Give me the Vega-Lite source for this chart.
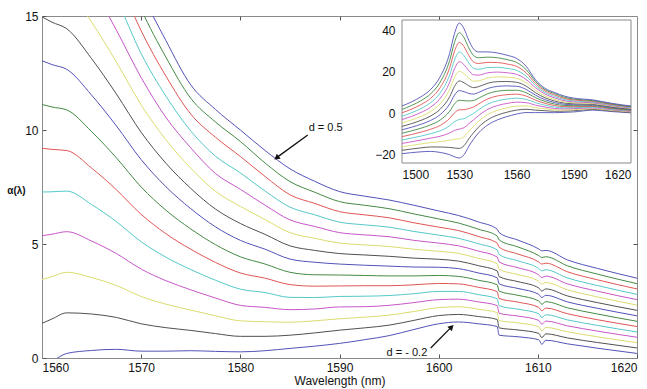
{
"$schema": "https://vega.github.io/schema/vega-lite/v6.json",
"width": 595, "height": 342,
"autosize": {"type": "none"},
"padding": {"left": 42, "top": 16, "right": 10, "bottom": 31},
"background": "white",
"config": {
  "view": {"stroke": "#8a8a8a", "strokeWidth": 1},
  "axis": {"grid": false, "labelFont": "Liberation Sans", "labelFontSize": 12, "labelColor": "#111", "domainColor": "#8a8a8a", "tickColor": "#555", "titleFont": "Liberation Sans", "titleColor": "#111"},
  "text": {"font": "Liberation Sans"}
},
"datasets": {
  "main": [
    {"w":1560,"c00":-0.4,"c01":1.52,"c02":3.44,"c03":5.36,"c04":7.28,"c05":9.2,"c06":11.12,"c07":13.04,"c08":14.96,"c09":16.88,"c10":18.8,"c11":20.72,"c12":22.64,"c13":24.56,"c14":26.48},
    {"w":1561,"c00":-0.15,"c01":1.71,"c02":3.57,"c03":5.43,"c04":7.29,"c05":9.15,"c06":11.01,"c07":12.87,"c08":14.73,"c09":16.59,"c10":18.45,"c11":20.31,"c12":22.17,"c13":24.03,"c14":25.89},
    {"w":1562.5,"c00":0.2,"c01":1.98,"c02":3.76,"c03":5.54,"c04":7.32,"c05":9.1,"c06":10.88,"c07":12.66,"c08":14.44,"c09":16.22,"c10":18.0,"c11":19.78,"c12":21.56,"c13":23.34,"c14":25.12},
    {"w":1565,"c00":0.33,"c01":1.93,"c02":3.53,"c03":5.13,"c04":6.73,"c05":8.33,"c06":9.93,"c07":11.53,"c08":13.13,"c09":14.73,"c10":16.33,"c11":17.93,"c12":19.53,"c13":21.13,"c14":22.73},
    {"w":1567.5,"c00":0.38,"c01":1.78,"c02":3.18,"c03":4.58,"c04":5.98,"c05":7.38,"c06":8.78,"c07":10.18,"c08":11.58,"c09":12.98,"c10":14.38,"c11":15.78,"c12":16.83,"c13":17.98,"c14":18.98},
    {"w":1570,"c00":0.3,"c01":1.5,"c02":2.7,"c03":3.9,"c04":5.1,"c05":6.3,"c06":7.5,"c07":8.7,"c08":9.9,"c09":11.1,"c10":12.3,"c11":13.35,"c12":14.35,"c13":15.3,"c14":16.1},
    {"w":1572.5,"c00":0.3,"c01":1.33,"c02":2.36,"c03":3.39,"c04":4.42,"c05":5.45,"c06":6.48,"c07":7.51,"c08":8.54,"c09":9.57,"c10":10.55,"c11":11.48,"c12":12.36,"c13":13.19,"c14":13.92},
    {"w":1575,"c00":0.32,"c01":1.21,"c02":2.1,"c03":2.99,"c04":3.88,"c05":4.77,"c06":5.66,"c07":6.55,"c08":7.44,"c09":8.33,"c10":9.22,"c11":9.96,"c12":10.7,"c13":11.39,"c14":11.98},
    {"w":1577.5,"c00":0.29,"c01":1.07,"c02":1.85,"c03":2.63,"c04":3.41,"c05":4.19,"c06":4.97,"c07":5.75,"c08":6.53,"c09":7.31,"c10":8.09,"c11":8.85,"c12":9.68,"c13":10.35,"c14":10.9},
    {"w":1580,"c00":0.27,"c01":0.95,"c02":1.63,"c03":2.31,"c04":3.02,"c05":3.73,"c06":4.44,"c07":5.16,"c08":5.9,"c09":6.65,"c10":7.4,"c11":8.12,"c12":8.84,"c13":9.5,"c14":10.0},
    {"w":1582.5,"c00":0.32,"c01":0.95,"c02":1.59,"c03":2.22,"c04":2.87,"c05":3.5,"c06":4.12,"c07":4.77,"c08":5.42,"c09":6.07,"c10":6.7,"c11":7.32,"c12":7.96,"c13":8.55,"c14":9.1},
    {"w":1585,"c00":0.42,"c01":1.0,"c02":1.57,"c03":2.12,"c04":2.66,"c05":3.22,"c06":3.76,"c07":4.34,"c08":4.92,"c09":5.5,"c10":6.06,"c11":6.62,"c12":7.16,"c13":7.74,"c14":8.3},
    {"w":1587.5,"c00":0.52,"c01":1.1,"c02":1.63,"c03":2.15,"c04":2.65,"c05":3.15,"c06":3.65,"c07":4.2,"c08":4.72,"c09":5.25,"c10":5.77,"c11":6.28,"c12":6.78,"c13":7.27,"c14":7.75},
    {"w":1590,"c00":0.64,"c01":1.22,"c02":1.72,"c03":2.24,"c04":2.7,"c05":3.16,"c06":3.64,"c07":4.12,"c08":4.58,"c09":5.04,"c10":5.5,"c11":5.96,"c12":6.42,"c13":6.86,"c14":7.3},
    {"w":1592.5,"c00":0.8,"c01":1.32,"c02":1.79,"c03":2.25,"c04":2.71,"c05":3.17,"c06":3.62,"c07":4.07,"c08":4.52,"c09":4.96,"c10":5.4,"c11":5.84,"c12":6.28,"c13":6.7,"c14":7.1},
    {"w":1595,"c00":0.98,"c01":1.44,"c02":1.88,"c03":2.31,"c04":2.74,"c05":3.17,"c06":3.6,"c07":4.03,"c08":4.46,"c09":4.89,"c10":5.32,"c11":5.74,"c12":6.15,"c13":6.55,"c14":6.93},
    {"w":1597.5,"c00":1.25,"c01":1.65,"c02":2.04,"c03":2.43,"c04":2.82,"c05":3.21,"c06":3.6,"c07":3.99,"c08":4.38,"c09":4.77,"c10":5.16,"c11":5.55,"c12":5.93,"c13":6.32,"c14":6.7},
    {"w":1600,"c00":1.5,"c01":1.86,"c02":2.21,"c03":2.56,"c04":2.92,"c05":3.27,"c06":3.62,"c07":3.98,"c08":4.33,"c09":4.68,"c10":5.04,"c11":5.39,"c12":5.74,"c13":6.1,"c14":6.45},
    {"w":1602,"c00":1.58,"c01":1.91,"c02":2.25,"c03":2.58,"c04":2.92,"c05":3.25,"c06":3.58,"c07":3.92,"c08":4.25,"c09":4.59,"c10":4.92,"c11":5.25,"c12":5.59,"c13":5.92,"c14":6.25},
    {"w":1604,"c00":1.5,"c01":1.82,"c02":2.14,"c03":2.46,"c04":2.78,"c05":3.1,"c06":3.41,"c07":3.73,"c08":4.05,"c09":4.37,"c10":4.69,"c11":5.01,"c12":5.33,"c13":5.65,"c14":5.97},
    {"w":1605.9,"c00":1.38,"c01":1.69,"c02":1.99,"c03":2.3,"c04":2.6,"c05":2.91,"c06":3.21,"c07":3.52,"c08":3.82,"c09":4.13,"c10":4.43,"c11":4.74,"c12":5.04,"c13":5.35,"c14":5.65},
    {"w":1606.1,"c00":1.0,"c01":1.32,"c02":1.64,"c03":1.96,"c04":2.29,"c05":2.61,"c06":2.93,"c07":3.25,"c08":3.57,"c09":3.89,"c10":4.21,"c11":4.54,"c12":4.86,"c13":5.18,"c14":5.5},
    {"w":1608,"c00":0.93,"c01":1.23,"c02":1.54,"c03":1.84,"c04":2.14,"c05":2.45,"c06":2.75,"c07":3.05,"c08":3.35,"c09":3.66,"c10":3.96,"c11":4.26,"c12":4.56,"c13":4.87,"c14":5.17},
    {"w":1610.1,"c00":0.8,"c01":1.08,"c02":1.37,"c03":1.65,"c04":1.94,"c05":2.22,"c06":2.5,"c07":2.79,"c08":3.07,"c09":3.36,"c10":3.64,"c11":3.92,"c12":4.21,"c13":4.49,"c14":4.78},
    {"w":1610.4,"c00":0.6,"c01":0.89,"c02":1.19,"c03":1.48,"c04":1.77,"c05":2.07,"c06":2.36,"c07":2.65,"c08":2.94,"c09":3.24,"c10":3.53,"c11":3.82,"c12":4.12,"c13":4.41,"c14":4.7},
    {"w":1610.8,"c00":0.78,"c01":1.06,"c02":1.34,"c03":1.62,"c04":1.9,"c05":2.19,"c06":2.47,"c07":2.75,"c08":3.03,"c09":3.31,"c10":3.59,"c11":3.87,"c12":4.16,"c13":4.44,"c14":4.72},
    {"w":1613,"c00":0.62,"c01":0.88,"c02":1.15,"c03":1.41,"c04":1.67,"c05":1.94,"c06":2.2,"c07":2.46,"c08":2.72,"c09":2.99,"c10":3.25,"c11":3.51,"c12":3.78,"c13":4.04,"c14":4.3},
    {"w":1616,"c00":0.43,"c01":0.68,"c02":0.93,"c03":1.18,"c04":1.43,"c05":1.68,"c06":1.93,"c07":2.18,"c08":2.43,"c09":2.68,"c10":2.93,"c11":3.18,"c12":3.43,"c13":3.68,"c14":3.93},
    {"w":1620,"c00":0.2,"c01":0.44,"c02":0.67,"c03":0.91,"c04":1.14,"c05":1.38,"c06":1.61,"c07":1.85,"c08":2.09,"c09":2.32,"c10":2.56,"c11":2.79,"c12":3.03,"c13":3.26,"c14":3.5}
  ],
  "inset": [
    {"w":1500,"c00":-19.5,"c01":-17.86,"c02":-16.21,"c03":-14.57,"c04":-12.93,"c05":-11.29,"c06":-9.64,"c07":-8.0,"c08":-6.36,"c09":-4.71,"c10":-3.07,"c11":-1.43,"c12":0.21,"c13":1.86,"c14":3.5},
    {"w":1505,"c00":-19.0,"c01":-17.25,"c02":-15.5,"c03":-13.75,"c04":-12.0,"c05":-10.25,"c06":-8.5,"c07":-6.75,"c08":-5.0,"c09":-3.25,"c10":-1.5,"c11":0.25,"c12":2.0,"c13":3.75,"c14":5.5},
    {"w":1510,"c00":-18.6,"c01":-16.7,"c02":-14.8,"c03":-12.9,"c04":-11.0,"c05":-9.1,"c06":-7.2,"c07":-5.3,"c08":-3.4,"c09":-1.5,"c10":0.4,"c11":2.3,"c12":4.2,"c13":6.1,"c14":8.0},
    {"w":1515,"c00":-18.4,"c01":-16.26,"c02":-14.13,"c03":-11.99,"c04":-9.86,"c05":-7.72,"c06":-5.58,"c07":-3.45,"c08":-1.31,"c09":0.82,"c10":2.96,"c11":5.1,"c12":7.23,"c13":9.37,"c14":11.5},
    {"w":1520,"c00":-18.9,"c01":-16.29,"c02":-13.69,"c03":-11.08,"c04":-8.47,"c05":-5.87,"c06":-3.26,"c07":-0.65,"c08":1.96,"c09":4.56,"c10":7.17,"c11":9.78,"c12":12.38,"c13":14.99,"c14":17.6},
    {"w":1525,"c00":-20.0,"c01":-16.5,"c02":-13.0,"c03":-9.5,"c04":-6.0,"c05":-2.5,"c06":1.0,"c07":4.5,"c08":8.0,"c09":11.5,"c10":15.0,"c11":18.5,"c12":22.0,"c13":25.5,"c14":29.0},
    {"w":1527.5,"c00":-21.0,"c01":-16.76,"c02":-12.51,"c03":-8.27,"c04":-4.03,"c05":0.21,"c06":4.46,"c07":8.7,"c08":12.94,"c09":17.19,"c10":21.43,"c11":25.67,"c12":29.91,"c13":34.16,"c14":38.4},
    {"w":1530,"c00":-21.6,"c01":-16.95,"c02":-12.3,"c03":-7.65,"c04":-3.0,"c05":1.65,"c06":6.3,"c07":10.95,"c08":15.6,"c09":20.25,"c10":24.9,"c11":29.55,"c12":34.2,"c13":38.85,"c14":43.5},
    {"w":1532.5,"c00":-20.0,"c01":-15.66,"c02":-11.31,"c03":-6.97,"c04":-2.63,"c05":1.71,"c06":6.06,"c07":10.4,"c08":14.74,"c09":19.09,"c10":23.43,"c11":27.77,"c12":32.11,"c13":36.46,"c14":40.8},
    {"w":1535,"c00":-16.0,"c01":-12.34,"c02":-8.69,"c03":-5.03,"c04":-1.37,"c05":2.29,"c06":5.94,"c07":9.6,"c08":13.26,"c09":16.91,"c10":20.57,"c11":24.23,"c12":27.89,"c13":31.54,"c14":35.2},
    {"w":1537.5,"c00":-12.5,"c01":-9.39,"c02":-6.29,"c03":-3.18,"c04":-0.07,"c05":3.04,"c06":6.14,"c07":9.25,"c08":12.36,"c09":15.46,"c10":18.57,"c11":21.68,"c12":24.79,"c13":27.89,"c14":31.0},
    {"w":1540,"c00":-9.6,"c01":-6.8,"c02":-4.0,"c03":-1.2,"c04":1.6,"c05":4.4,"c06":7.2,"c07":10.0,"c08":12.8,"c09":15.6,"c10":18.4,"c11":21.2,"c12":24.0,"c13":26.8,"c14":29.6},
    {"w":1545,"c00":-5.6,"c01":-3.09,"c02":-0.57,"c03":1.94,"c04":4.46,"c05":6.97,"c06":9.48,"c07":12.0,"c08":14.51,"c09":17.03,"c10":19.54,"c11":22.05,"c12":24.57,"c13":27.08,"c14":29.6},
    {"w":1550,"c00":-3.2,"c01":-0.89,"c02":1.41,"c03":3.72,"c04":6.03,"c05":8.34,"c06":10.64,"c07":12.95,"c08":15.26,"c09":17.56,"c10":19.87,"c11":22.18,"c12":24.48,"c13":26.79,"c14":29.1},
    {"w":1555,"c00":-1.6,"c01":0.51,"c02":2.63,"c03":4.74,"c04":6.86,"c05":8.97,"c06":11.08,"c07":13.2,"c08":15.31,"c09":17.43,"c10":19.54,"c11":21.65,"c12":23.77,"c13":25.88,"c14":28.0},
    {"w":1560,"c00":-0.4,"c01":1.52,"c02":3.44,"c03":5.36,"c04":7.28,"c05":9.2,"c06":11.12,"c07":13.04,"c08":14.96,"c09":16.88,"c10":18.8,"c11":20.72,"c12":22.64,"c13":24.56,"c14":26.48},
    {"w":1565,"c00":0.33,"c01":1.93,"c02":3.53,"c03":5.13,"c04":6.73,"c05":8.33,"c06":9.93,"c07":11.53,"c08":13.13,"c09":14.73,"c10":16.33,"c11":17.93,"c12":19.53,"c13":21.13,"c14":22.73},
    {"w":1570,"c00":0.3,"c01":1.5,"c02":2.7,"c03":3.9,"c04":5.1,"c05":6.3,"c06":7.5,"c07":8.7,"c08":9.9,"c09":11.1,"c10":12.3,"c11":13.35,"c12":14.35,"c13":15.3,"c14":16.1},
    {"w":1575,"c00":0.32,"c01":1.21,"c02":2.1,"c03":2.99,"c04":3.88,"c05":4.77,"c06":5.66,"c07":6.55,"c08":7.44,"c09":8.33,"c10":9.22,"c11":9.96,"c12":10.7,"c13":11.39,"c14":11.98},
    {"w":1580,"c00":0.27,"c01":0.95,"c02":1.63,"c03":2.31,"c04":3.02,"c05":3.73,"c06":4.44,"c07":5.16,"c08":5.9,"c09":6.65,"c10":7.4,"c11":8.12,"c12":8.84,"c13":9.5,"c14":10.0},
    {"w":1585,"c00":0.42,"c01":1.0,"c02":1.57,"c03":2.12,"c04":2.66,"c05":3.22,"c06":3.76,"c07":4.34,"c08":4.92,"c09":5.5,"c10":6.06,"c11":6.62,"c12":7.16,"c13":7.74,"c14":8.3},
    {"w":1590,"c00":0.64,"c01":1.22,"c02":1.72,"c03":2.24,"c04":2.7,"c05":3.16,"c06":3.64,"c07":4.12,"c08":4.58,"c09":5.04,"c10":5.5,"c11":5.96,"c12":6.42,"c13":6.86,"c14":7.3},
    {"w":1600,"c00":1.5,"c01":1.86,"c02":2.21,"c03":2.56,"c04":2.92,"c05":3.27,"c06":3.62,"c07":3.98,"c08":4.33,"c09":4.68,"c10":5.04,"c11":5.39,"c12":5.74,"c13":6.1,"c14":6.45},
    {"w":1610,"c00":0.8,"c01":1.08,"c02":1.37,"c03":1.65,"c04":1.94,"c05":2.22,"c06":2.5,"c07":2.79,"c08":3.07,"c09":3.36,"c10":3.64,"c11":3.92,"c12":4.21,"c13":4.49,"c14":4.78},
    {"w":1620,"c00":0.2,"c01":0.44,"c02":0.67,"c03":0.91,"c04":1.14,"c05":1.38,"c06":1.61,"c07":1.85,"c08":2.09,"c09":2.32,"c10":2.56,"c11":2.79,"c12":3.03,"c13":3.26,"c14":3.5}
  ]
},
"resolve": {"scale": {"x": "independent", "y": "independent", "color": "shared"}, "axis": {"x": "independent", "y": "independent"}},
"layer": [
  {
    "data": {"name": "main"},
    "transform": [{"fold": ["c00","c01","c02","c03","c04","c05","c06","c07","c08","c09","c10","c11","c12","c13","c14"], "as": ["curve","val"]}],
    "mark": {"type": "line", "strokeWidth": 1, "clip": true, "interpolate": "monotone"},
    "encoding": {
      "x": {"field": "w", "type": "quantitative", "scale": {"domain": [1560, 1620], "nice": false, "zero": false},
        "axis": {"orient": "bottom", "values": [1560,1570,1580,1590,1600,1610,1620], "format": "d", "tickSize": -4, "labelPadding": 8, "title": "Wavelength (nm)", "titleFontSize": 12, "titleFontWeight": "normal", "titlePadding": 2}},
      "y": {"field": "val", "type": "quantitative", "scale": {"domain": [0, 15], "nice": false, "zero": false},
        "axis": {"orient": "left", "values": [0,5,10,15], "tickSize": -4, "labelPadding": 8, "title": "α(λ)", "titleAngle": 0, "titleX": -26, "titleY": 174, "titleAlign": "center", "titleBaseline": "middle", "titleFontSize": 10, "titleFontWeight": "bold"}},
      "color": {"field": "curve", "type": "nominal", "legend": null,
        "scale": {"domain": ["c00","c01","c02","c03","c04","c05","c06","c07","c08","c09","c10","c11","c12","c13","c14"],
          "range": ["#5252b8","#505050","#dcdc70","#c855c8","#55c8c8","#e05555","#448a44","#5252b8","#505050","#dcdc70","#c855c8","#55c8c8","#e05555","#448a44","#5252b8"]}}
    }
  },
  {
    "data": {"values": [{}]},
    "layer": [
      {
        "mark": {"type": "rule", "strokeWidth": 1.3, "color": "#111"},
        "encoding": {
          "x": {"datum": 1586.8, "type": "quantitative", "scale": {"domain": [1560, 1620], "nice": false, "zero": false}, "axis": {"orient": "top", "values": [1570,1580,1590,1600,1610], "labels": false, "tickSize": -4, "domain": false, "title": null}},
          "y": {"datum": 9.78, "type": "quantitative", "scale": {"domain": [0, 15], "nice": false, "zero": false}, "axis": {"orient": "right", "values": [5,10], "labels": false, "tickSize": -4, "domain": false, "title": null}},
          "x2": {"datum": 1583.7},
          "y2": {"datum": 8.8}
        }
      },
      {
        "mark": {"type": "rule", "strokeWidth": 1.3, "color": "#111"},
        "encoding": {
          "x": {"datum": 1599.2, "type": "quantitative"},
          "y": {"datum": 0.44, "type": "quantitative"},
          "x2": {"datum": 1601.2},
          "y2": {"datum": 1.32}
        }
      },
      {
        "mark": {"type": "point", "shape": "triangle-up", "filled": true, "color": "#111", "size": 40, "angle": 234, "opacity": 1},
        "encoding": {"x": {"datum": 1583.65, "type": "quantitative"}, "y": {"datum": 8.78, "type": "quantitative"}}
      },
      {
        "mark": {"type": "point", "shape": "triangle-up", "filled": true, "color": "#111", "size": 40, "angle": 45, "opacity": 1},
        "encoding": {"x": {"datum": 1601.3, "type": "quantitative"}, "y": {"datum": 1.36, "type": "quantitative"}}
      },
      {
        "mark": {"type": "text", "fontSize": 11, "color": "#111", "align": "center", "baseline": "middle"},
        "encoding": {"x": {"datum": 1588.6, "type": "quantitative"}, "y": {"datum": 10.1, "type": "quantitative"}, "text": {"value": "d = 0.5"}}
      },
      {
        "mark": {"type": "text", "fontSize": 11, "color": "#111", "align": "center", "baseline": "middle"},
        "encoding": {"x": {"datum": 1596.8, "type": "quantitative"}, "y": {"datum": 0.22, "type": "quantitative"}, "text": {"value": "d = - 0.2"}}
      }
    ]
  },
  {
    "layer": [
      {
        "data": {"values": [{}]},
        "mark": {"type": "rect", "fill": "white", "stroke": "#8a8a8a", "strokeWidth": 1},
        "encoding": {
          "x": {"datum": 1500, "type": "quantitative", "scale": {"domain": [1500, 1620], "range": [360, 589], "nice": false, "zero": false},
            "axis": {"orient": "bottom", "offset": -195, "values": [1500,1530,1560,1590,1620], "format": "d", "ticks": false, "labelPadding": 6, "title": null, "domain": false}},
          "x2": {"datum": 1620},
          "y": {"datum": -24, "type": "quantitative", "scale": {"domain": [-24, 45], "range": [147, 4], "nice": false, "zero": false},
            "axis": {"orient": "left", "offset": -360, "values": [-20,0,20,40], "ticks": false, "labelPadding": 7, "title": null, "domain": false}},
          "y2": {"datum": 45}
        }
      },
      {
        "data": {"name": "inset"},
        "transform": [{"fold": ["c00","c01","c02","c03","c04","c05","c06","c07","c08","c09","c10","c11","c12","c13","c14"], "as": ["curve","val"]}],
        "mark": {"type": "line", "strokeWidth": 0.9, "interpolate": "monotone"},
        "encoding": {
          "x": {"field": "w", "type": "quantitative"},
          "y": {"field": "val", "type": "quantitative"},
          "color": {"field": "curve", "type": "nominal", "legend": null}
        }
      }
    ]
  }
]
}
